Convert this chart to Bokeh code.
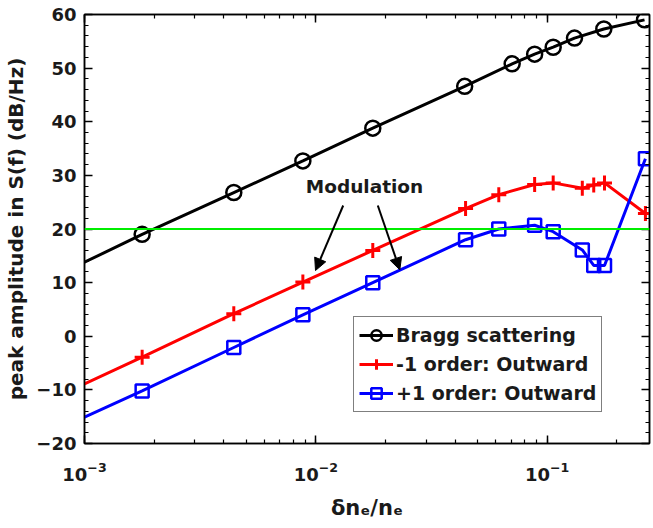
import numpy as np
from bokeh.plotting import figure
from bokeh.models import (Range1d, LogAxis, LinearAxis, SingleIntervalTicker, LogTicker,
                          Span, Label, Arrow, NormalHead, Legend, LegendItem)
from bokeh.embed import file_html
from bokeh.resources import INLINE

# ---------------- data ----------------
x_edge = [1e-3]
bragg_edge = [13.8]
minus1_edge = [-8.9]
plus1_edge = [-15.1]

x_bragg = [1.775e-3, 4.42e-3, 8.79e-3, 0.01763, 0.0440, 0.0706, 0.0883, 0.1062, 0.1313, 0.1758, 0.2636]
y_bragg = [19.0, 26.8, 32.7, 38.8, 46.6, 50.8, 52.6, 53.9, 55.6, 57.3, 59.0]

x_order = [1.775e-3, 4.42e-3, 8.79e-3, 0.01763, 0.0444, 0.0618, 0.0883, 0.1062, 0.1419, 0.159, 0.177, 0.266]
y_minus1 = [-3.9, 4.2, 10.1, 16.0, 23.8, 26.4, 28.3, 28.6, 27.6, 28.2, 28.6, 22.9]
y_plus1 = [-10.2, -2.1, 4.0, 10.0, 18.0, 20.0, 20.7, 19.5, 16.1, 13.2, 13.2, 33.1]

threshold = 20
x_range_lim = (1e-3, 0.277)
y_range_lim = (-20, 60)

FONT = "DejaVu Sans"
TXT = "#1a1a1a"

# ---------------- main figure ----------------
p = figure(x_axis_type="log", x_range=Range1d(*x_range_lim), y_range=Range1d(*y_range_lim),
           frame_width=565, frame_height=429, output_backend="svg", toolbar_location=None,
           min_border_left=84, min_border_top=14, min_border_right=4, min_border_bottom=85,
           background_fill_color="white", border_fill_color="white")
p.xgrid.visible = False
p.ygrid.visible = False
p.outline_line_color = "black"
p.outline_line_width = 1.5

# reference-pixel -> data helpers for annotation placement
FL, FR, FT, FB = 84.0, 649.0, 14.0, 443.0
def px_x(px):
    lo, hi = np.log10(x_range_lim[0]), np.log10(x_range_lim[1])
    return float(10 ** (lo + (px - FL) / (FR - FL) * (hi - lo)))
def px_y(py):
    return float(y_range_lim[1] - (py - FT) / (FB - FT) * (y_range_lim[1] - y_range_lim[0]))

def style_axis(ax, show_labels=True):
    ax.axis_line_color = "black"
    ax.axis_line_width = 1.5
    ax.major_tick_in = 8
    ax.major_tick_out = 0
    ax.minor_tick_in = 4
    ax.minor_tick_out = 0
    ax.major_tick_line_color = "black"
    ax.minor_tick_line_color = "black"
    ax.major_tick_line_width = 1.5
    ax.minor_tick_line_width = 1.2
    ax.major_label_text_font = FONT
    ax.major_label_text_font_style = "bold"
    ax.major_label_text_color = TXT
    ax.major_label_text_font_size = "18px"
    if not show_labels:
        ax.major_label_text_font_size = "2px"
        ax.major_label_text_alpha = 0
        ax.major_label_standoff = 0

xax = p.xaxis[0]
xax.ticker = LogTicker(num_minor_ticks=10, desired_num_ticks=3)
style_axis(xax)
xax.major_label_standoff = 18
xax.axis_label = "\u03b4n\u2091/n\u2091"
xax.axis_label_text_font = FONT
xax.axis_label_text_font_style = "bold"
xax.axis_label_text_font_size = "21px"
xax.axis_label_text_color = TXT
xax.axis_label_standoff = 12

yax = p.yaxis[0]
yax.ticker = SingleIntervalTicker(interval=10, num_minor_ticks=5)
style_axis(yax)
yax.major_label_standoff = 8
yax.axis_label = "peak amplitude in S(f) (dB/Hz)"
yax.axis_label_text_font = FONT
yax.axis_label_text_font_style = "bold"
yax.axis_label_text_font_size = "20px"
yax.axis_label_text_color = TXT
yax.axis_label_standoff = 5

top = LogAxis(ticker=LogTicker(num_minor_ticks=10, desired_num_ticks=3))
style_axis(top, False)
p.add_layout(top, "above")
right = LinearAxis(ticker=SingleIntervalTicker(interval=10, num_minor_ticks=5))
style_axis(right, False)
p.add_layout(right, "right")

# ---------------- series ----------------
BLACK, RED, BLUE = "#000000", "#ff0000", "#0000ff"

l_b = p.line(x_edge + x_bragg, bragg_edge + y_bragg, line_color=BLACK, line_width=3)
s_b = p.scatter(x_bragg, y_bragg, marker="circle", size=15, fill_color=None,
                line_color=BLACK, line_width=2.5)
l_m = p.line(x_edge + x_order, minus1_edge + y_minus1, line_color=RED, line_width=3)
s_m = p.scatter(x_order, y_minus1, marker="cross", size=15, line_color=RED, line_width=3)
l_p = p.line(x_edge + x_order, plus1_edge + y_plus1, line_color=BLUE, line_width=3)
s_p = p.scatter(x_order, y_plus1, marker="square", size=13, fill_color=None,
                line_color=BLUE, line_width=2.5)

p.add_layout(Span(location=threshold, dimension="width", line_color="#00ee00", line_width=2))

# ---------------- annotations ----------------
p.add_layout(Label(x=px_x(364), y=px_y(186), text="Modulation", text_align="center",
                   text_baseline="middle", text_font=FONT, text_font_style="bold",
                   text_font_size="18.5px", text_color=TXT))
for (x0, y0, x1, y1) in [(342.7, 205, 315, 270), (377.3, 205, 399.3, 269.3)]:
    p.add_layout(Arrow(x_start=px_x(x0), y_start=px_y(y0), x_end=px_x(x1), y_end=px_y(y1),
                       line_color="black", line_width=2,
                       end=NormalHead(size=12, fill_color="black", line_color="black")))

# ---------------- legend ----------------
legend = Legend(items=[
    LegendItem(label="Bragg scattering", renderers=[l_b, s_b]),
    LegendItem(label="-1 order: Outward", renderers=[l_m, s_m]),
    LegendItem(label="+1 order: Outward", renderers=[l_p, s_p]),
], location=(269, 31))
legend.label_text_font = FONT
legend.label_text_font_style = "bold"
legend.label_text_font_size = "19px"
legend.label_text_color = TXT
legend.glyph_width = 34
legend.glyph_height = 26
legend.label_height = 26
legend.spacing = 3
legend.padding = 5
legend.margin = 0
legend.label_standoff = 3
legend.border_line_color = "black"
legend.border_line_width = 1.5
legend.background_fill_color = "white"
legend.background_fill_alpha = 1.0
p.add_layout(legend)

open("out.html", "w").write(file_html(p, INLINE))
